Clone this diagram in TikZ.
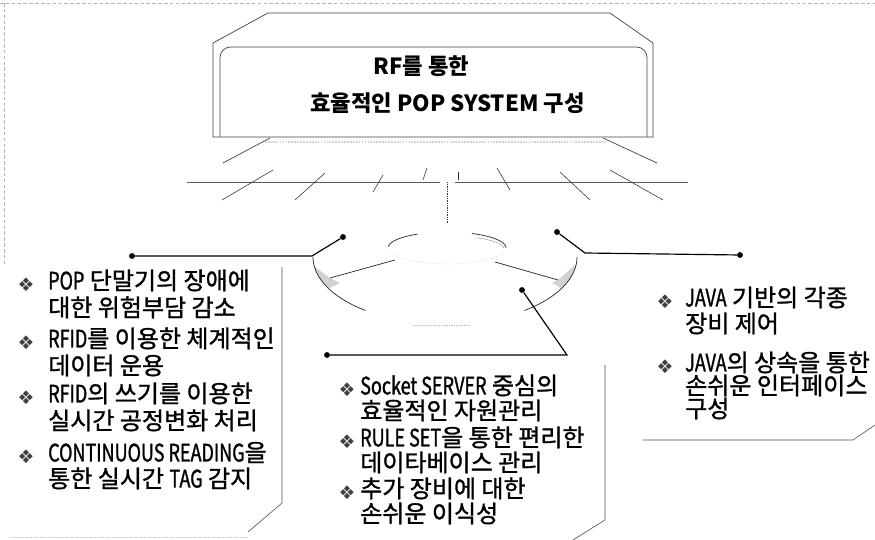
\documentclass[tikz,border=0pt]{standalone}
\usepackage{fontspec}
\setmainfont{Noto Sans CJK KR}
\newfontfamily\symfont{DejaVu Sans}
\newfontfamily\itemfont[FakeBold=1.2]{Noto Sans CJK KR}
\newfontfamily\narrowfont[FakeStretch=0.75, FakeBold=1.2]{Noto Sans CJK KR}
\newcommand{\latn}[1]{{\narrowfont #1}}
\begin{document}
\begin{tikzpicture}[
    x=0.03cm, y=-0.03cm,
    frame/.style={gray!60, densely dashed, line width=0.4pt},
    boxline/.style={black!70, line width=0.5pt},
    monitor/.style={black!75, line width=0.6pt},
    ray/.style={black!80, line width=0.5pt},
    rim/.style={black!85, line width=0.6pt},
    lead/.style={black, line width=1pt},
    dot/.style={circle, fill=black, inner sep=0pt, minimum size=5pt},
    item/.style={anchor=west, inner sep=0pt, font=\itemfont\fontsize{20.5}{24}\selectfont, text height=0.76em, text depth=0pt},
    bul/.style={inner sep=0pt, text=black!75, font=\symfont\fontsize{16}{17}\selectfont},
    title/.style={anchor=west, inner sep=0pt, font=\bfseries\fontsize{19}{22}\selectfont, text height=0.76em, text depth=0pt}
  ]
  \useasboundingbox (0,0) rectangle (875,540);

  \draw[frame] (0,3) -- (875,3);
  \draw[frame] (4,3) -- (4,265);
  \draw[gray!40, densely dotted] (10,537) -- (247,537);

  % monitor
  \draw[monitor] (268,13) -- (610,13) -- (653,43) -- (653,137) -- (213,137) -- (213,43) -- cycle;
  \draw[monitor, rounded corners=9] (220,137) -- (220,47) -- (647,47) -- (647,137);
  \draw[gray!35, line width=1.5pt, densely dotted] (265,142) -- (605,142);
  \draw[monitor] (270,138) -- (223,163);
  \draw[monitor] (603,138) -- (657,163);
  \node[title] (title1) at (373,70) {RF를 통한};
  \node[title] (title2) at (310,107) {효율적인 POP SYSTEM 구성};

  % rays
  \draw[black!65, line width=0.5pt] (187,182) -- (440,182);
  \draw[black!65, line width=0.5pt] (455,182) -- (688,182);
  \foreach \a/\b/\c/\d in {222/200/273/170, 295/200/325/173, 373/192/383/175,
      423/180/427/168, 458/180/458/172, 497/168/510/190, 560/172/590/200, 610/170/663/200}
    \draw[ray] (\a,\b) -- (\c,\d);
  \draw[ray, densely dotted, line width=0.7pt] (447,182) -- (447,223);

  % disc
  \fill[black!18] plot[domain=172:152, samples=15] ({445+132*cos(\x)}, {257+67*sin(\x)})
    -- (340,283) -- (330,278) -- cycle;
  \fill[black!18] plot[domain=6:28, samples=15] ({445+132*cos(\x)}, {257+67*sin(\x)})
    -- (552,283) -- (558,280) -- cycle;
  \draw[rim] plot[domain=180:127, samples=30, smooth] ({445+132*cos(\x)}, {257+67*sin(\x)});
  \draw[rim] plot[domain=0:53, samples=30, smooth] ({445+132*cos(\x)}, {257+67*sin(\x)});
  \draw[rim] plot[domain=185:240, samples=20, smooth] ({447+59*cos(\x)}, {248+16*sin(\x)});
  \draw[rim] plot[domain=295:360, samples=20, smooth] ({447+59*cos(\x)}, {248+16*sin(\x)});
  \draw[black!40, line width=0.4pt] plot[domain=300:355, samples=20, smooth] ({449+55*cos(\x)}, {249+13*sin(\x)});
  \draw[gray!50, densely dotted] plot[domain=15:165, samples=30, smooth] ({447+59*cos(\x)}, {248+16*sin(\x)});
  \draw[rim] (395,260) -- (330,278);
  \draw[rim] (495,262) -- (558,280);
  \draw[gray!50, densely dotted] (413,325) -- (470,325);

  % leader lines
  \node[dot] (dotL) at (343,237) {};
  \coordinate (bendL) at (312,256);
  \node[dot] (dotLL) at (132,256) {};
  \node[dot] (dotR) at (557,232) {};
  \coordinate (bendR) at (585,253);
  \node[dot] (dotRR) at (740,255) {};
  \node[dot] (dotB) at (522,290) {};
  \coordinate (bendB) at (567,355);
  \node[dot] (dotBB) at (327,355) {};
  \draw[lead] (dotL) -- (bendL) -- (dotLL);
  \draw[lead] (dotR) -- (bendR) -- (dotRR);
  \draw[lead] (dotB) -- (bendB) -- (dotBB);

  % text boxes
  \draw[boxline] (282,267) -- (282,503) -- (248,532);
  \draw[boxline] (605,365) -- (605,520) -- (573,540);
  \draw[boxline] (643,440) -- (853,440) -- (875,425);

  \foreach \y/\txt [count=\i] in {285/\latn{POP} 단말기의 장애에, 312/대한 위험부담 감소,
      343/\latn{RFID}를 이용한 체계적인, 370/데이터 운용, 398/\latn{RFID}의 쓰기를 이용한,
      425/실시간 공정변화 처리, 457/\latn{CONTINUOUS READING}을, 483/통한 실시간 \latn{TAG} 감지}
    \node[item] (left\i) at (48,\y) {\txt};
  \foreach \y/\txt [count=\i] in {390/\latn{Socket SERVER} 중심의, 415/효율적인 자원관리,
      442/\latn{RULE SET}을 통한 편리한, 467/데이타베이스 관리, 493/추가 장비에 대한, 518/손쉬운 이식성}
    \node[item] (mid\i) at (360,\y) {\txt};
  \foreach \y/\txt [count=\i] in {302/\latn{JAVA} 기반의 각종, 328/장비 제어,
      367/\latn{JAVA}의 상속을 통한, 390/손쉬운 인터페이스, 413/구성}
    \node[item] (right\i) at (685,\y) {\txt};

  \foreach \x/\y [count=\i] in {26/285, 26/343, 26/398, 26/457, 347/390, 347/442, 347/493, 665/302, 665/367}
    \node[bul] (bul\i) at (\x,\y) {❖};
\end{tikzpicture}
\end{document}
